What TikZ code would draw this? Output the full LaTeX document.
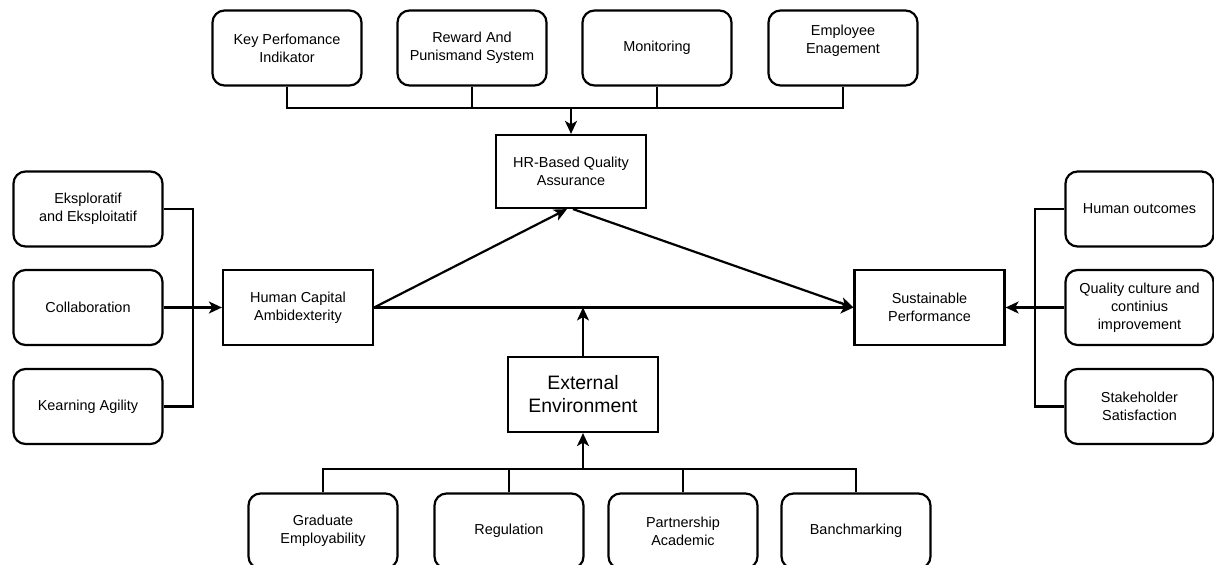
\documentclass[tikz,border=0pt]{standalone}
\usepackage{fontspec}
\setmainfont{Liberation Sans}
\usetikzlibrary{arrows.meta}
\begin{document}
\begin{tikzpicture}[x=1bp,y=-1bp,
  base/.style={draw=black,line width=2.2bp,align=center,inner sep=2bp,
    font=\fontsize{14.5}{18}\selectfont},
  rbox/.style={base,rounded corners=12bp,minimum width=149bp,minimum height=75bp},
  sbox/.style={base,minimum width=150bp,minimum height=75bp},
  conn/.style={line width=2.2bp},
  arr/.style={conn,-{Stealth[length=13bp,width=12bp,inset=3.5bp]}}
]
\useasboundingbox (0,0) rectangle (1214,565);
% top row
\node[rbox] (k1) at (287,48) {Key Perfomance\\Indikator};
\node[rbox] (k2) at (472,48) {Reward And\\Punismand System};
\node[rbox] (k3) at (657,48) {Monitoring};
\node[rbox] (k4) at (843,48) {Employee\\Enagement\\~};
% centre
\node[sbox,minimum height=73bp] (hr) at (571,171.5) {HR-Based Quality\\Assurance};
\node[sbox] (hca) at (298,307.5) {Human Capital\\Ambidexterity};
\node[sbox] (sp) at (929.5,307.5) {Sustainable\\Performance};
\node[sbox,font=\fontsize{19.5}{23}\selectfont] (ee) at (583,394.5) {External\\Environment};
% left
\node[rbox] (l1) at (88,209) {Eksploratif\\and Eksploitatif};
\node[rbox] (l2) at (88,307.5) {Collaboration};
\node[rbox] (l3) at (88,406.5) {Kearning Agility};
% right
\node[rbox,minimum width=148bp] (r1) at (1139.5,209) {Human outcomes};
\node[rbox,minimum width=148bp] (r2) at (1139.5,307.5) {Quality culture and\\continius\\improvement};
\node[rbox,minimum width=148bp] (r3) at (1139.5,406.5) {Stakeholder\\Satisfaction};
% bottom
\node[rbox] (b1) at (323,531) {Graduate\\Employability};
\node[rbox] (b2) at (509,531) {Regulation};
\node[rbox] (b3) at (683,531) {Partnership\\Academic};
\node[rbox] (b4) at (856,531) {Banchmarking};
% junctions
\coordinate (tj) at (571,108);
\coordinate (lj) at (193,307.5);
\coordinate (rj) at (1035,307.5);
\coordinate (bj) at (583,469);
\coordinate (mj) at (583,307.5);
% top connectors
\draw[conn] (k1.south) |- (tj) -| (k4.south);
\draw[conn] (k2.south) -- (k2.south |- tj);
\draw[conn] (k3.south) -- (k3.south |- tj);
\draw[arr] (tj) -- (hr.north);
% left connectors
\draw[conn] (l1.east) -| (lj) |- (l3.east);
\draw[arr] (l2.east) -- (hca.west);
% right connectors
\draw[conn] (r1.west) -| (rj) |- (r3.west);
\draw[arr] (r2.west) -- (sp.east);
% centre arrows
\draw[arr] (hca.east) -- ([xshift=-4bp]hr.south);
\draw[arr] ([xshift=2bp]hr.south) -- (sp.west);
\draw[arr] (hca.east) -- (sp.west);
\draw[arr] (ee.north) -- (mj);
% bottom connectors
\draw[conn] (b1.north) |- (bj) -| (b4.north);
\draw[conn] (b2.north) -- (b2.north |- bj);
\draw[conn] (b3.north) -- (b3.north |- bj);
\draw[arr] (bj) -- (ee.south);
\end{tikzpicture}
\end{document}
